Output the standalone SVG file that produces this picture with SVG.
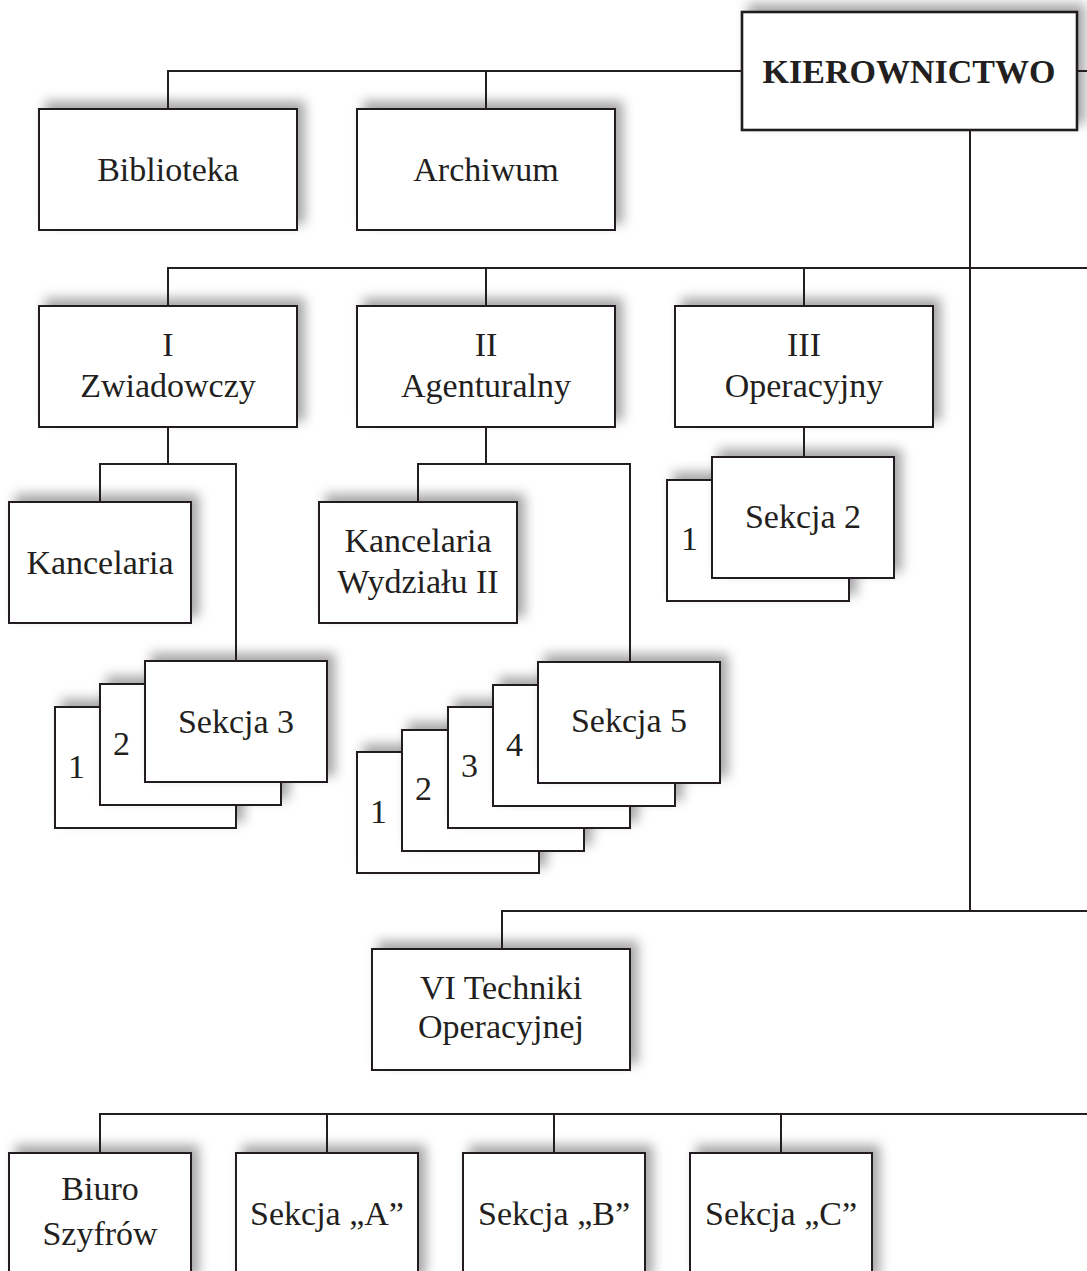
<svg xmlns="http://www.w3.org/2000/svg" width="1087" height="1271" viewBox="0 0 1087 1271">
  <defs>
    <filter id="shadow" x="-20%" y="-30%" width="140%" height="160%">
      <feDropShadow dx="7" dy="-7" stdDeviation="6" flood-color="#000" flood-opacity="0.35"/>
    </filter>
  </defs>
  <style>
    .box { fill: #ffffff; stroke: #231f20; stroke-width: 2; filter: url(#shadow); }
    .head { stroke-width: 2.6; }
    .lbl { font-family: "Liberation Serif", "Times New Roman", serif; font-size: 34px; fill: #231f20; text-anchor: middle; }
    .num { font-family: "Liberation Serif", "Times New Roman", serif; font-size: 34px; fill: #231f20; }
    .bold { font-weight: bold; }
    .wire { fill: none; stroke: #231f20; stroke-width: 2; }
  </style>

  <rect width="1087" height="1271" fill="#ffffff"/>

  <!-- management -->
  <g id="kierownictwo">
    <rect class="box head" x="742" y="12" width="335" height="118"/>
    <text class="lbl bold" x="909" y="83">KIEROWNICTWO</text>
  </g>

  <!-- staff units -->
  <g id="biblioteka">
    <rect class="box" x="39" y="109" width="258" height="121"/>
    <text class="lbl" x="168" y="181">Biblioteka</text>
  </g>
  <g id="archiwum">
    <rect class="box" x="357" y="109" width="258" height="121"/>
    <text class="lbl" x="486" y="181">Archiwum</text>
  </g>

  <!-- departments -->
  <g id="wydzial-1">
    <rect class="box" x="39" y="306" width="258" height="121"/>
    <text class="lbl" x="168" y="356">I</text>
    <text class="lbl" x="168" y="397">Zwiadowczy</text>
  </g>
  <g id="wydzial-2">
    <rect class="box" x="357" y="306" width="258" height="121"/>
    <text class="lbl" x="486" y="356">II</text>
    <text class="lbl" x="486" y="397">Agenturalny</text>
  </g>
  <g id="wydzial-3">
    <rect class="box" x="675" y="306" width="258" height="121"/>
    <text class="lbl" x="804" y="356">III</text>
    <text class="lbl" x="804" y="397">Operacyjny</text>
  </g>

  <!-- department I sub-units -->
  <g id="kancelaria-1">
    <rect class="box" x="9" y="502" width="182" height="121"/>
    <text class="lbl" x="100" y="574">Kancelaria</text>
  </g>
  <g id="sekcje-1">
    <rect class="box" x="55" y="707" width="181" height="121"/>
    <text class="num" x="68" y="778">1</text>
    <rect class="box" x="100" y="684" width="181" height="121"/>
    <text class="num" x="113" y="755">2</text>
    <rect class="box" x="145" y="661" width="182" height="121"/>
    <text class="lbl" x="236" y="733">Sekcja 3</text>
  </g>

  <!-- department II sub-units -->
  <g id="kancelaria-2">
    <rect class="box" x="319" y="502" width="198" height="121"/>
    <text class="lbl" x="418" y="552">Kancelaria</text>
    <text class="lbl" x="418" y="593">Wydziału II</text>
  </g>
  <g id="sekcje-2">
    <rect class="box" x="357" y="752" width="182" height="121"/>
    <text class="num" x="370" y="823">1</text>
    <rect class="box" x="402" y="730" width="182" height="121"/>
    <text class="num" x="415" y="800">2</text>
    <rect class="box" x="448" y="707" width="182" height="121"/>
    <text class="num" x="461" y="777">3</text>
    <rect class="box" x="493" y="685" width="182" height="121"/>
    <text class="num" x="506" y="756">4</text>
    <rect class="box" x="538" y="662" width="182" height="121"/>
    <text class="lbl" x="629" y="732">Sekcja 5</text>
  </g>

  <!-- department III sub-units -->
  <g id="sekcje-3">
    <rect class="box" x="667" y="480" width="182" height="121"/>
    <text class="num" x="681" y="550">1</text>
    <rect class="box" x="712" y="457" width="182" height="121"/>
    <text class="lbl" x="803" y="528">Sekcja 2</text>
  </g>

  <!-- department VI -->
  <g id="wydzial-6">
    <rect class="box" x="372" y="949" width="258" height="121"/>
    <text class="lbl" x="501" y="999">VI Techniki</text>
    <text class="lbl" x="501" y="1038">Operacyjnej</text>
  </g>

  <!-- lower row -->
  <g id="biuro-szyfrow">
    <rect class="box" x="9" y="1153" width="182" height="130"/>
    <text class="lbl" x="100" y="1200">Biuro</text>
    <text class="lbl" x="100" y="1245">Szyfrów</text>
  </g>
  <g id="sekcja-a">
    <rect class="box" x="236" y="1153" width="182" height="130"/>
    <text class="lbl" x="327" y="1225">Sekcja „A”</text>
  </g>
  <g id="sekcja-b">
    <rect class="box" x="463" y="1153" width="182" height="130"/>
    <text class="lbl" x="554" y="1225">Sekcja „B”</text>
  </g>
  <g id="sekcja-c">
    <rect class="box" x="690" y="1153" width="182" height="130"/>
    <text class="lbl" x="781" y="1225">Sekcja „C”</text>
  </g>

  <!-- connectors -->
  <g id="connectors" class="wire">
    <path d="M742 71 H168 V109 M486 71 V109 M1077 71 H1087"/>
    <path d="M970 130 V911"/>
    <path d="M168 306 V268 H1087 M486 268 V306 M804 268 V306"/>
    <path d="M168 427 V464 M100 502 V464 H236 V661"/>
    <path d="M486 427 V464 M418 502 V464 H630 V662"/>
    <path d="M804 427 V457"/>
    <path d="M502 949 V911 H1087"/>
    <path d="M100 1153 V1114 H1087 M327 1114 V1153 M554 1114 V1153 M781 1114 V1153"/>
  </g>
</svg>
